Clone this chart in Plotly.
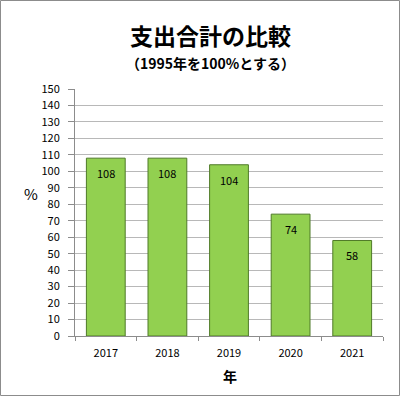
import plotly.graph_objects as go

years = ["2017", "2018", "2019", "2020", "2021"]
values = [108, 108, 104, 74, 58]
labels = ["108", "108", "104", "74", "58"]
y_ticks = list(range(0, 151, 10))

FONT = "Noto Sans CJK JP"
L, R, T, B = 75, 17, 89, 60
W, H = 400, 396
pw, ph = W - L - R, H - T - B

def px(x):
    return (x - L) / pw

def py(y):
    return (H - B - y) / ph

fig = go.Figure()
fig.add_trace(go.Bar(
    x=years, y=values,
    marker=dict(color="#92D050", line=dict(color="#4F7A28", width=1)),
    width=0.63, hoverinfo="skip",
))

for i, (v, t) in enumerate(zip(values, labels)):
    fig.add_annotation(x=i, y=v, text=t, showarrow=False, yshift=-15,
                       font=dict(family=FONT, size=11, color="#000000"))

def label(x, y, text, size):
    fig.add_annotation(xref="paper", yref="paper", x=px(x), y=py(y), text=text,
                       xanchor="center", yanchor="middle", showarrow=False,
                       font=dict(family=FONT, size=size, color="#000000"))

label(210, 35, "<b>支出合計の比較</b>", 23)
label(210, 63, "<b>（1995年を100%とする）</b>", 14)
label(31, 193, "%", 15)
label(230, 376, "<b>年</b>", 14)

fig.add_shape(type="rect", xref="paper", yref="paper",
              x0=px(0.5), x1=px(399.5), y0=py(395.5), y1=py(0.5),
              line=dict(color="#8c8c8c", width=1))

fig.update_layout(
    width=W, height=H,
    margin=dict(l=L, r=R, t=T, b=B),
    paper_bgcolor="white", plot_bgcolor="white",
    showlegend=False,
    font=dict(family=FONT, size=11, color="#000000"),
)
fig.update_xaxes(
    type="category", categoryorder="array", categoryarray=years,
    range=[-0.5, 4.5], automargin=False,
    tickson="boundaries", ticks="outside", ticklen=4,
    tickcolor="#8c8c8c", showline=True, linecolor="#8c8c8c", linewidth=1,
    tickfont=dict(family=FONT, size=11), tickangle=0, ticklabelstandoff=7,
    showgrid=False,
)
fig.update_yaxes(
    range=[0, 150], tickvals=y_ticks, ticks="outside", ticklen=6, automargin=False,
    tickcolor="#8c8c8c", showline=True, linecolor="#8c8c8c", linewidth=1,
    gridcolor="#b8b8b8", gridwidth=1, zeroline=False,
    tickfont=dict(family=FONT, size=11), ticklabelstandoff=6,
)

fig.write_html("out.html", config={"displayModeBar": False},
               post_script="document.body.style.margin='0';document.body.style.overflow='hidden';")
